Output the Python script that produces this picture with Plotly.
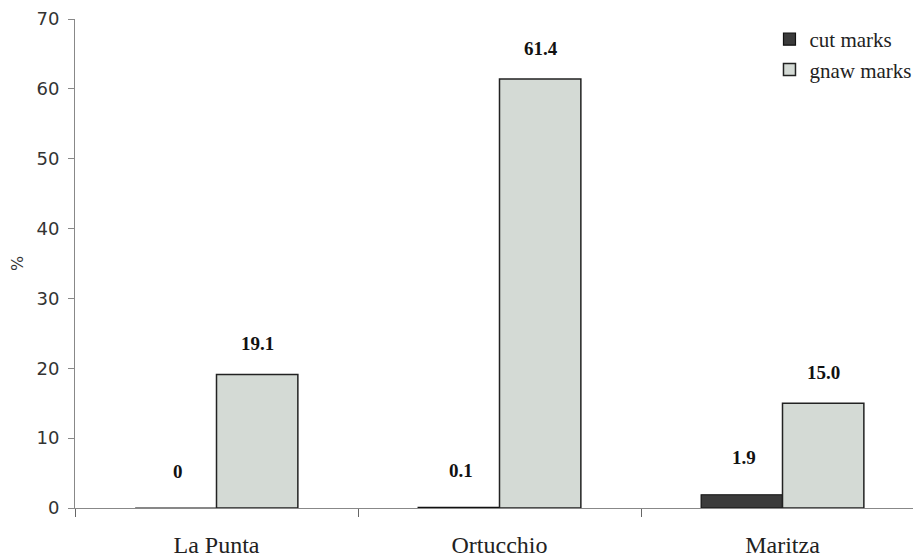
import plotly.graph_objects as go

sites = ["La Punta", "Ortucchio", "Maritza"]
cut_marks = [0, 0.1, 1.9]
gnaw_marks = [19.1, 61.4, 15.0]
cut_labels = ["0", "0.1", "1.9"]
gnaw_labels = ["19.1", "61.4", "15.0"]
y_ticks = [0, 10, 20, 30, 40, 50, 60, 70]

fig = go.Figure()
fig.add_trace(go.Bar(
    x=sites, y=cut_marks, name="cut marks",
    marker=dict(color="#3b3b3b", line=dict(color="#111111", width=1.2)),
))
fig.add_trace(go.Bar(
    x=sites, y=gnaw_marks, name="gnaw marks",
    marker=dict(color="#d4dad5", line=dict(color="#222222", width=1.5)),
))

label_font = dict(family="Liberation Serif", size=19, color="#111111")
for s, v, t in zip(sites, cut_marks, cut_labels):
    fig.add_annotation(x=s, y=v, text="<b>%s</b>" % t, xref="x", yref="y",
                       xshift=-39, yshift=37, showarrow=False, font=label_font)
for s, v, t in zip(sites, gnaw_marks, gnaw_labels):
    fig.add_annotation(x=s, y=v, text="<b>%s</b>" % t, xref="x", yref="y",
                       xshift=41, yshift=31, showarrow=False, font=label_font)

fig.update_layout(
    width=921, height=557,
    margin=dict(l=67, r=5, t=11, b=57),
    paper_bgcolor="white", plot_bgcolor="white",
    barmode="group", bargap=0.425, bargroupgap=0,
    showlegend=True,
    legend=dict(x=0.818, y=1.0, xanchor="left", yanchor="top",
                font=dict(family="Liberation Serif", size=21, color="#222222"),
                bgcolor="rgba(0,0,0,0)", tracegroupgap=0, itemwidth=30),
    xaxis=dict(
        automargin=False,
        showline=True, linecolor="#888888", linewidth=1,
        ticks="outside", tickson="boundaries", ticklen=8, tickcolor="#666666",
        tickfont=dict(family="Liberation Serif", size=24, color="#222222"),
        ticklabelstandoff=15,
    ),
    yaxis=dict(
        automargin=False,
        range=[0, 70], tickvals=y_ticks, showgrid=False, zeroline=False,
        showline=True, linecolor="#888888", linewidth=1,
        ticks="outside", ticklen=6, tickcolor="#888888",
        tickfont=dict(family="DejaVu Sans", size=18, color="#333333"),
        ticklabelstandoff=5,
        title=dict(text="%", font=dict(family="DejaVu Sans", size=16, color="#333333"), standoff=19),
    ),
)

fig.write_html("out.html")
